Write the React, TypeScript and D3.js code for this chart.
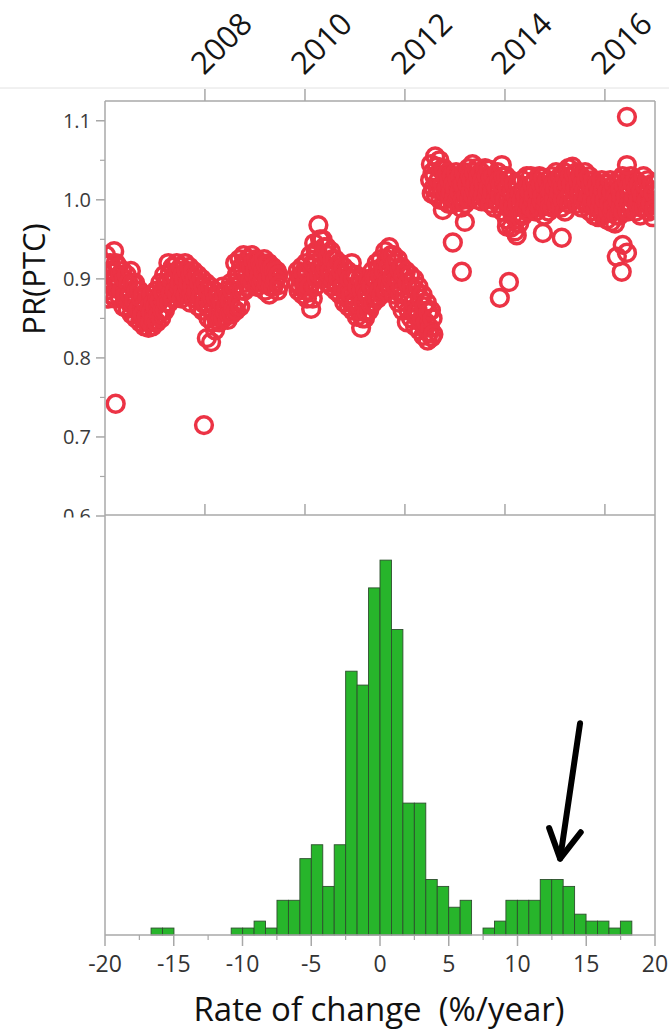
import React from "react";
import * as d3 from "d3";

// ---------- data ----------
const yearTicks = [2008, 2010, 2012, 2014, 2016];
const prTicks = [0.6, 0.7, 0.8, 0.9, 1.0, 1.1];
const prMinorTicks = [0.65, 0.75, 0.85, 0.95, 1.05];
const rateTicks = [-20, -15, -10, -5, 0, 5, 10, 15, 20];
const rateMinorTicks = [-17.5, -12.5, -7.5, -2.5, 2.5, 7.5, 12.5, 17.5];

// five readings per month, taken on these days of the month
const sampleDays = [3, 9, 15, 21, 27];
type Row = [string, number, number, number, number, number];

const prSegmentA: Row[] = [
  ["2006-01", 0.905, 0.93, 0.885, 0.918, 0.875], ["2006-02", 0.895, 0.92, 0.88, 0.908, 0.89],
  ["2006-03", 0.91, 0.935, 0.875, 0.92, 0.89], ["2006-04", 0.895, 0.915, 0.878, 0.905, 0.885],
  ["2006-05", 0.885, 0.91, 0.865, 0.9, 0.875], ["2006-06", 0.88, 0.905, 0.862, 0.895, 0.87],
  ["2006-07", 0.88, 0.91, 0.855, 0.895, 0.868], ["2006-08", 0.872, 0.895, 0.85, 0.885, 0.86],
  ["2006-09", 0.862, 0.885, 0.845, 0.875, 0.852], ["2006-10", 0.855, 0.88, 0.84, 0.87, 0.848],
  ["2006-11", 0.852, 0.875, 0.838, 0.865, 0.845], ["2006-12", 0.858, 0.88, 0.84, 0.87, 0.848],
  ["2007-01", 0.865, 0.885, 0.845, 0.875, 0.855], ["2007-02", 0.872, 0.895, 0.85, 0.885, 0.86],
  ["2007-03", 0.882, 0.905, 0.86, 0.895, 0.87], ["2007-04", 0.895, 0.92, 0.87, 0.908, 0.882],
  ["2007-05", 0.898, 0.915, 0.875, 0.905, 0.885], ["2007-06", 0.902, 0.92, 0.88, 0.91, 0.89],
  ["2007-07", 0.895, 0.915, 0.875, 0.905, 0.885], ["2007-08", 0.9, 0.92, 0.88, 0.91, 0.89],
  ["2007-09", 0.895, 0.915, 0.87, 0.905, 0.882], ["2007-10", 0.89, 0.91, 0.875, 0.9, 0.882],
  ["2007-11", 0.885, 0.905, 0.865, 0.895, 0.875], ["2007-12", 0.878, 0.9, 0.86, 0.89, 0.868],
  ["2008-01", 0.87, 0.895, 0.825, 0.885, 0.85], ["2008-02", 0.862, 0.89, 0.82, 0.878, 0.845],
  ["2008-03", 0.86, 0.885, 0.835, 0.875, 0.848], ["2008-04", 0.858, 0.88, 0.845, 0.87, 0.85],
  ["2008-05", 0.87, 0.89, 0.85, 0.88, 0.858], ["2008-06", 0.865, 0.885, 0.848, 0.878, 0.855],
  ["2008-07", 0.872, 0.895, 0.855, 0.885, 0.862], ["2008-08", 0.89, 0.92, 0.86, 0.905, 0.872],
  ["2008-09", 0.905, 0.925, 0.865, 0.915, 0.885], ["2008-10", 0.91, 0.93, 0.885, 0.92, 0.895],
  ["2008-11", 0.905, 0.925, 0.89, 0.915, 0.898], ["2008-12", 0.915, 0.93, 0.895, 0.922, 0.905],
  ["2009-01", 0.91, 0.925, 0.89, 0.918, 0.9], ["2009-02", 0.905, 0.92, 0.895, 0.915, 0.9],
  ["2009-03", 0.91, 0.925, 0.885, 0.918, 0.895], ["2009-04", 0.9, 0.92, 0.88, 0.912, 0.89],
  ["2009-05", 0.905, 0.915, 0.89, 0.91, 0.895], ["2009-06", 0.9, 0.91, 0.885, 0.905, 0.892],
];

const prSegmentB: Row[] = [
  ["2009-11", 0.895, 0.91, 0.885, 0.903, 0.89], ["2009-12", 0.9, 0.915, 0.88, 0.908, 0.89],
  ["2010-01", 0.895, 0.92, 0.875, 0.908, 0.885], ["2010-02", 0.89, 0.93, 0.862, 0.915, 0.875],
  ["2010-03", 0.92, 0.945, 0.89, 0.935, 0.9], ["2010-04", 0.935, 0.968, 0.905, 0.95, 0.915],
  ["2010-05", 0.925, 0.95, 0.9, 0.94, 0.91], ["2010-06", 0.915, 0.94, 0.895, 0.93, 0.905],
  ["2010-07", 0.91, 0.935, 0.89, 0.925, 0.898], ["2010-08", 0.905, 0.925, 0.885, 0.915, 0.892],
  ["2010-09", 0.9, 0.92, 0.88, 0.91, 0.888], ["2010-10", 0.89, 0.915, 0.87, 0.905, 0.878],
  ["2010-11", 0.885, 0.91, 0.865, 0.9, 0.872], ["2010-12", 0.88, 0.92, 0.86, 0.9, 0.868],
  ["2011-01", 0.87, 0.905, 0.852, 0.89, 0.86], ["2011-02", 0.865, 0.9, 0.838, 0.885, 0.85],
  ["2011-03", 0.87, 0.895, 0.85, 0.885, 0.858], ["2011-04", 0.88, 0.9, 0.86, 0.892, 0.868],
  ["2011-05", 0.89, 0.91, 0.87, 0.902, 0.878], ["2011-06", 0.9, 0.92, 0.875, 0.912, 0.885],
  ["2011-07", 0.905, 0.925, 0.88, 0.915, 0.89], ["2011-08", 0.91, 0.935, 0.885, 0.925, 0.895],
  ["2011-09", 0.915, 0.94, 0.89, 0.93, 0.9], ["2011-10", 0.905, 0.93, 0.88, 0.92, 0.89],
  ["2011-11", 0.9, 0.925, 0.87, 0.912, 0.882], ["2011-12", 0.89, 0.915, 0.86, 0.905, 0.872],
  ["2012-01", 0.88, 0.91, 0.845, 0.895, 0.86], ["2012-02", 0.875, 0.905, 0.85, 0.89, 0.86],
  ["2012-03", 0.87, 0.9, 0.84, 0.885, 0.852], ["2012-04", 0.86, 0.89, 0.835, 0.875, 0.845],
  ["2012-05", 0.85, 0.88, 0.828, 0.865, 0.838], ["2012-06", 0.845, 0.87, 0.822, 0.858, 0.832],
  ["2012-07", 0.838, 0.86, 0.826, 0.85, 0.83],
];

const prSegmentC: Row[] = [
  ["2012-07", 1.025, 1.045, 1.008, 1.035, 1.015], ["2012-08", 1.03, 1.055, 1.005, 1.042, 1.015],
  ["2012-09", 1.025, 1.05, 1.0, 1.038, 1.01], ["2012-10", 1.02, 1.04, 1.0, 1.03, 1.008],
  ["2012-11", 1.015, 1.035, 0.995, 1.025, 1.005], ["2012-12", 1.01, 1.03, 0.995, 1.02, 1.002],
  ["2013-01", 1.015, 1.035, 0.998, 1.025, 1.005], ["2013-02", 1.01, 1.03, 0.99, 1.02, 1.0],
  ["2013-03", 1.02, 1.035, 0.995, 1.028, 1.005], ["2013-04", 1.02, 1.04, 1.0, 1.03, 1.01],
  ["2013-05", 1.025, 1.045, 1.005, 1.035, 1.012], ["2013-06", 1.02, 1.04, 1.0, 1.03, 1.01],
  ["2013-07", 1.015, 1.035, 0.998, 1.025, 1.005], ["2013-08", 1.02, 1.04, 1.0, 1.03, 1.008],
  ["2013-09", 1.015, 1.038, 0.995, 1.028, 1.005], ["2013-10", 1.01, 1.03, 0.99, 1.02, 1.0],
  ["2013-11", 1.015, 1.035, 0.995, 1.025, 1.005], ["2013-12", 1.02, 1.044, 0.985, 1.03, 1.0],
  ["2014-01", 1.0, 1.03, 0.975, 1.015, 0.99], ["2014-02", 0.995, 1.025, 0.965, 1.01, 0.98],
  ["2014-03", 0.99, 1.02, 0.96, 1.005, 0.975], ["2014-04", 0.995, 1.02, 0.97, 1.008, 0.982],
  ["2014-05", 1.0, 1.025, 0.98, 1.012, 0.99], ["2014-06", 1.005, 1.03, 0.985, 1.018, 0.995],
  ["2014-07", 1.01, 1.03, 0.99, 1.02, 1.0], ["2014-08", 1.005, 1.025, 0.985, 1.015, 0.995],
  ["2014-09", 1.01, 1.03, 0.99, 1.02, 0.998], ["2014-10", 1.005, 1.028, 0.98, 1.018, 0.992],
  ["2014-11", 1.0, 1.025, 0.985, 1.012, 0.992], ["2014-12", 1.01, 1.03, 0.99, 1.02, 1.0],
  ["2015-01", 1.015, 1.035, 0.995, 1.025, 1.005], ["2015-02", 1.01, 1.03, 0.99, 1.02, 1.0],
  ["2015-03", 1.015, 1.035, 0.985, 1.025, 1.0], ["2015-04", 1.02, 1.04, 0.995, 1.03, 1.008],
  ["2015-05", 1.02, 1.042, 1.0, 1.032, 1.01], ["2015-06", 1.015, 1.035, 0.995, 1.025, 1.005],
  ["2015-07", 1.01, 1.03, 0.99, 1.02, 1.0], ["2015-08", 1.012, 1.035, 0.995, 1.025, 1.002],
  ["2015-09", 1.005, 1.03, 0.985, 1.018, 0.995], ["2015-10", 1.0, 1.025, 0.98, 1.012, 0.99],
  ["2015-11", 0.998, 1.02, 0.978, 1.01, 0.988], ["2015-12", 1.0, 1.025, 0.98, 1.012, 0.99],
  ["2016-01", 1.0, 1.02, 0.975, 1.01, 0.985], ["2016-02", 0.995, 1.025, 0.972, 1.01, 0.985],
  ["2016-03", 0.99, 1.02, 0.97, 1.005, 0.98], ["2016-04", 1.0, 1.025, 0.98, 1.012, 0.99],
  ["2016-05", 1.005, 1.03, 0.985, 1.018, 0.995], ["2016-06", 1.005, 1.025, 0.985, 1.015, 0.995],
  ["2016-07", 1.01, 1.03, 0.99, 1.02, 1.0], ["2016-08", 1.005, 1.025, 0.985, 1.015, 0.995],
  ["2016-09", 1.0, 1.02, 0.98, 1.01, 0.99], ["2016-10", 1.005, 1.03, 0.99, 1.018, 0.998],
  ["2016-11", 1.0, 1.025, 0.985, 1.012, 0.992], ["2016-12", 0.995, 1.02, 0.978, 1.008, 0.988],
];

const prOutliers: [string, number][] = [
  ["2006-03-20", 0.742], ["2007-12-25", 0.715], ["2012-10-04", 0.987], ["2012-12-16", 0.946],
  ["2013-02-20", 0.909], ["2013-03-14", 0.972], ["2013-11-24", 0.876], ["2014-01-30", 0.896],
  ["2014-01-15", 0.966], ["2014-03-28", 0.955], ["2014-10-05", 0.958], ["2015-02-20", 0.952],
  ["2016-03-28", 0.928], ["2016-05-10", 0.943], ["2016-05-03", 0.909], ["2016-06-10", 0.933],
  ["2016-06-10", 1.105], ["2016-06-10", 1.044],
];

// histogram of rate of change (%/year)
const binStart = -16.65;
const binWidth = 0.8325;
const binCounts = [
  1, 1, 0, 0, 0, 0, 0, 1, 1, 2, 1, 5, 5, 11, 13, 7, 13, 38, 36, 50, 54,
  44, 19, 19, 8, 7, 4, 5, 0, 1, 2, 5, 5, 5, 8, 8, 7, 3, 2, 2, 1, 2,
];

// annotation arrow in (rate, count) units
const arrowShaft: [number, number][] = [[14.55, 30.5], [13.1, 11.0]];
const arrowHead: [number, number][] = [[12.3, 15.4], [13.1, 11.0], [14.6, 14.8]];

// ---------- layout ----------
const W = 669;
const H = 1034;
const L = 105;
const R = 655;
const topT = 101;
const topB = 516;
const histT = 515;
const histB = 935;
const frame = "#a8a8a8";
const red = "#ec3345";
const font = "'Open Sans', 'DejaVu Sans', sans-serif";

export default function App() {
  const x = d3.scaleTime().domain([new Date(2006, 0, 1), new Date(2017, 0, 1)]).range([L, R]);
  const y = d3.scaleLinear().domain([0.6, 1.125]).range([topB, topT]);
  const hx = d3.scaleLinear().domain([-20, 20]).range([L, R]);
  const hy = d3.scaleLinear().domain([0, 60.5]).range([histB, histT]);

  const parseMonth = d3.timeParse("%Y-%m");
  const parseDay = d3.timeParse("%Y-%m-%d");
  const rows = [...prSegmentA, ...prSegmentB, ...prSegmentC];
  const points: { d: Date; v: number }[] = [];
  rows.forEach(([m, ...vals]) => {
    const base = parseMonth(m)!;
    vals.forEach((v, i) => {
      points.push({ d: new Date(base.getFullYear(), base.getMonth(), sampleDays[i]), v });
    });
  });
  prOutliers.forEach(([s, v]) => points.push({ d: parseDay(s)!, v }));

  const bins = binCounts.map((c, i) => ({ x0: binStart + i * binWidth, x1: binStart + (i + 1) * binWidth, c }));
  const line = d3.line<[number, number]>().x((p) => hx(p[0])).y((p) => hy(p[1]));

  return (
    <svg width={W} height={H} style={{ position: "absolute", left: 0, top: 0, background: "#fff" }} fontFamily={font}>
      <rect x={0} y={0} width={W} height={H} fill="#fff" />
      <defs>
        <clipPath id="topClip">
          <rect x={L} y={topT} width={R - L} height={histT - topT} />
        </clipPath>
      </defs>

      {/* faint separator line above top axis */}
      <line x1={0} x2={W} y1={88} y2={88} stroke="#e2e2e2" strokeWidth={1} />

      {/* year axis on top */}
      {yearTicks.map((yr) => {
        const px = x(new Date(yr, 0, 1));
        return (
          <g key={yr}>
            <line x1={px} x2={px} y1={89} y2={topT} stroke={frame} strokeWidth={1.5} />
            <line x1={px} x2={px} y1={histT - 11} y2={histT} stroke={frame} strokeWidth={1.5} />
            <text transform={`translate(${px - 1},76) rotate(-45)`} fontSize={31} fill="#151515">
              {yr}
            </text>
          </g>
        );
      })}

      {/* PR y axis */}
      {prTicks.map((t) => (
        <g key={t}>
          <line x1={L - 9} x2={L} y1={y(t)} y2={y(t)} stroke={frame} strokeWidth={1.5} />
          <text x={91} y={y(t)} dy="0.35em" textAnchor="end" fontSize={20} fill="#3a3a3a">
            {t.toFixed(1)}
          </text>
        </g>
      ))}
      {prMinorTicks.map((t) => (
        <line key={t} x1={L - 5} x2={L} y1={y(t)} y2={y(t)} stroke={frame} strokeWidth={1.2} />
      ))}
      <text transform="translate(45,279) rotate(-90)" textAnchor="middle" fontSize={31} fill="#111">
        PR(PTC)
      </text>

      {/* scatter */}
      <g clipPath="url(#topClip)">
        {points.map((p, i) => (
          <circle key={i} cx={x(p.d)} cy={y(p.v)} r={8.4} fill="none" stroke={red} strokeWidth={3.5} />
        ))}
      </g>
      <line x1={L} x2={R} y1={topT} y2={topT} stroke={frame} strokeWidth={1.5} />
      <line x1={R} x2={R} y1={topT} y2={histT} stroke={frame} strokeWidth={1.5} />

      {/* histogram panel covers the bottom of the upper panel's labels */}
      <rect x={0} y={histT + 2.5} width={W} height={H - histT} fill="#fff" />

      {bins.map((b, i) =>
        b.c > 0 ? (
          <rect
            key={i}
            x={hx(b.x0)}
            y={hy(b.c)}
            width={hx(b.x1) - hx(b.x0)}
            height={hy(0) - hy(b.c)}
            fill="#27b52b"
            stroke="#2d4f2d"
            strokeWidth={0.9}
          />
        ) : null
      )}

      {/* frames */}
      <line x1={L} x2={L} y1={topT} y2={histB} stroke={frame} strokeWidth={1.5} />
      <line x1={R} x2={R} y1={histT} y2={histB} stroke={frame} strokeWidth={1.5} />
      <line x1={L} x2={R} y1={histT} y2={histT} stroke={frame} strokeWidth={1.5} />
      <line x1={L} x2={R} y1={histB} y2={histB} stroke={frame} strokeWidth={1.5} />

      {/* bottom axis */}
      {rateTicks.map((t) => (
        <g key={t}>
          <line x1={hx(t)} x2={hx(t)} y1={histB} y2={histB + 11} stroke={frame} strokeWidth={1.5} />
          <text x={hx(t)} y={972} textAnchor="middle" fontSize={23} fill="#333">
            {t}
          </text>
        </g>
      ))}
      {rateMinorTicks.map((t) => (
        <line key={t} x1={hx(t)} x2={hx(t)} y1={histB} y2={histB + 5} stroke={frame} strokeWidth={1.2} />
      ))}
      <text x={379} y={1021} textAnchor="middle" fontSize={33} fill="#111" style={{ whiteSpace: "pre" }}>
        {"Rate of change  (%/year)"}
      </text>

      {/* arrow annotation */}
      <path d={line(arrowShaft)!} fill="none" stroke="#000" strokeWidth={6} strokeLinecap="round" />
      <path d={line(arrowHead)!} fill="none" stroke="#000" strokeWidth={6} strokeLinecap="round" strokeLinejoin="round" />
    </svg>
  );
}
